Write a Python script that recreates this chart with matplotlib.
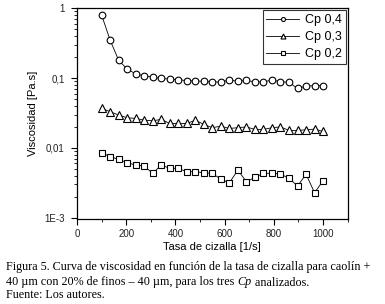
import numpy as np
import matplotlib
matplotlib.use("Agg")
import matplotlib.pyplot as plt
from matplotlib.ticker import FixedLocator, LogLocator, NullFormatter, MultipleLocator

# ---- data ----
shear_rate = np.linspace(100, 1000, 27)
cp04 = [0.80, 0.35, 0.18, 0.135, 0.115, 0.108, 0.103, 0.099, 0.097, 0.095,
        0.092, 0.091, 0.090, 0.088, 0.088, 0.094, 0.090, 0.093, 0.088, 0.088,
        0.094, 0.089, 0.087, 0.071, 0.077, 0.078, 0.078]
cp03 = [0.037, 0.033, 0.0296, 0.027, 0.0265, 0.025, 0.0245, 0.0256, 0.0224, 0.0224,
        0.0224, 0.025, 0.0217, 0.0195, 0.0205, 0.019, 0.0195, 0.020, 0.0184, 0.0184,
        0.0195, 0.020, 0.0178, 0.0178, 0.0182, 0.0186, 0.0172]
cp02 = [0.00853, 0.00748, 0.00687, 0.00614, 0.00569, 0.00550, 0.00433, 0.00569, 0.0051, 0.0051,
        0.00456, 0.00456, 0.00441, 0.00433, 0.00355, 0.00317, 0.00482, 0.00328, 0.00379, 0.00433,
        0.00433, 0.00423, 0.00367, 0.00285, 0.00419, 0.00228, 0.00339]
series_labels = ["Cp 0,4", "Cp 0,3", "Cp 0,2"]
ytick_vals = [1e-3, 1e-2, 1e-1, 1]
ytick_labels = ["1E-3", "0,01", "0,1", "1"]
xtick_vals = [0, 200, 400, 600, 800, 1000]
xlabel = "Tasa de cizalla [1/s]"
ylabel = "Viscosidad [Pa.s]"
caption1 = "Figura 5. Curva de viscosidad en función de la tasa de cizalla para caolín +"
caption2_a = "40 µm con 20% de finos – 40 µm, para los tres "
caption2_b = "Cp"
caption2_c = " analizados."
caption3 = "Fuente: Los autores."

W, H = 385, 304
fig = plt.figure(figsize=(W / 100, H / 100), dpi=100)
ax_l, ax_r, ax_t, ax_b = 77, 347.7, 8.3, 219.3
ax = fig.add_axes([ax_l / W, 1 - ax_b / H, (ax_r - ax_l) / W, (ax_b - ax_t) / H])
aw, ah = ax_r - ax_l, ax_b - ax_t

sans = "Liberation Sans"
serif = "Liberation Serif"

common = dict(color="black", linewidth=0.6, markerfacecolor="white",
              markeredgecolor="black", markeredgewidth=0.8)
ax.plot(shear_rate, cp04, marker="o", markersize=4.8, label=series_labels[0], **common)
ax.plot(shear_rate, cp03, marker="^", markersize=6, label=series_labels[1], **common)
ax.plot(shear_rate, cp02, marker="s", markersize=4.8, label=series_labels[2], **common)

ax.set_yscale("log")
ax.set_xlim(0, 1100)
ax.set_ylim(0.00095, 1.0)
ax.yaxis.set_major_locator(FixedLocator(ytick_vals))
ax.set_yticklabels(ytick_labels)
ax.yaxis.set_minor_locator(LogLocator(base=10, subs=np.arange(2, 10)))
ax.yaxis.set_minor_formatter(NullFormatter())
ax.set_xticks(xtick_vals)
ax.xaxis.set_minor_locator(MultipleLocator(100))

ax.tick_params(which="major", direction="out", length=4, width=0.8, labelsize=7,
               labelcolor="#222222")
ax.tick_params(which="minor", direction="out", length=2, width=0.6)
ax.tick_params(axis="y", which="major", pad=5)
ax.tick_params(axis="x", which="major", pad=3)
for lab in ax.get_xticklabels() + ax.get_yticklabels():
    lab.set_fontfamily(sans)
for s in ax.spines.values():
    s.set_linewidth(0.9)

ax.set_xlabel(xlabel, fontsize=8, family=sans)
ax.set_ylabel(ylabel, fontsize=8, family=sans)
ax.xaxis.set_label_coords(0.5, (ax_b - 241.5) / ah)
ax.yaxis.set_label_coords((38.5 - ax_l) / aw, 0.5)

leg = ax.legend(loc="upper right", prop={"family": sans, "size": 9},
                frameon=True, fancybox=False, edgecolor="black", borderaxespad=0.15,
                handlelength=2.6, handletextpad=0.5, labelspacing=0.4,
                borderpad=0.3, markerscale=0.6)
leg.get_frame().set_linewidth(0.8)

fs = 8.75
fig.text(6 / W, 1 - 270 / H, caption1, family=serif, fontsize=fs, va="baseline")
t = fig.text(6 / W, 1 - 285.5 / H, caption2_a, family=serif, fontsize=fs, va="baseline")
fig.canvas.draw()
r = fig.canvas.get_renderer()
bb = t.get_window_extent(r)
t2 = fig.text(bb.x1 / W, 1 - 285.5 / H, caption2_b, family=serif, fontsize=fs,
              style="italic", va="baseline")
bb2 = t2.get_window_extent(r)
fig.text(bb2.x1 / W, 1 - 285.5 / H, caption2_c, family=serif, fontsize=fs, va="baseline")
fig.text(6 / W, 1 - 298.3 / H, caption3, family=serif, fontsize=fs, va="baseline")

fig.savefig("out.png", dpi=100)
